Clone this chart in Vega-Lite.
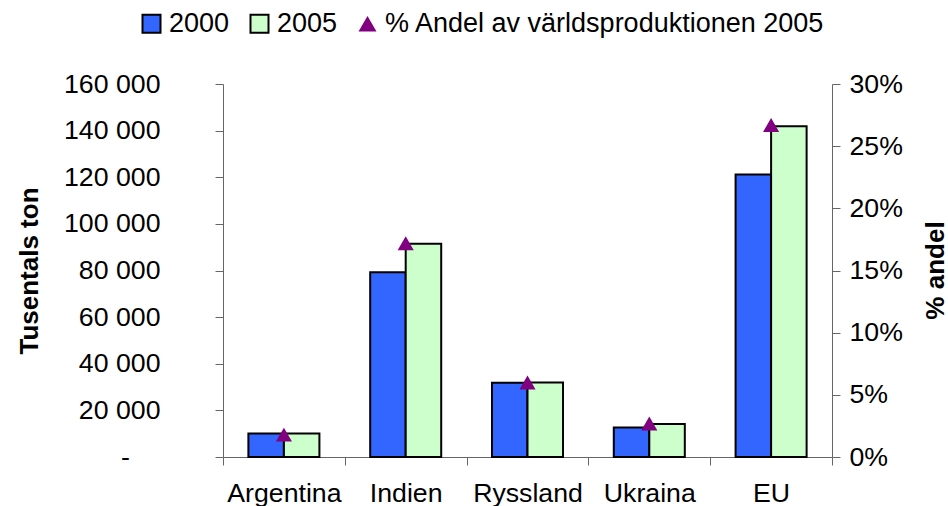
{
  "$schema": "https://vega.github.io/schema/vega-lite/v6.json",
  "width": 609,
  "height": 373,
  "autosize": {"type": "none"},
  "padding": {"left": 223, "top": 84, "right": 116, "bottom": 49},
  "background": "#ffffff",
  "config": {
    "view": {"stroke": null},
    "font": "Liberation Sans",
    "axis": {
      "labelFont": "Liberation Sans",
      "titleFont": "Liberation Sans",
      "labelColor": "#000000",
      "titleColor": "#000000",
      "domainColor": "#666666",
      "tickColor": "#666666",
      "labelFontSize": 26.7,
      "titleFontSize": 26,
      "titleFontWeight": "bold",
      "grid": false
    }
  },
  "datasets": {
    "bars": [
      {"country": "Argentina", "year": "2000", "value": 10100},
      {"country": "Argentina", "year": "2005", "value": 10100},
      {"country": "Indien", "year": "2000", "value": 79300},
      {"country": "Indien", "year": "2005", "value": 91500},
      {"country": "Ryssland", "year": "2000", "value": 31900},
      {"country": "Ryssland", "year": "2005", "value": 32000},
      {"country": "Ukraina", "year": "2000", "value": 12700},
      {"country": "Ukraina", "year": "2005", "value": 14200},
      {"country": "EU", "year": "2000", "value": 121200},
      {"country": "EU", "year": "2005", "value": 141900}
    ],
    "share": [
      {"country": "Argentina", "pct": 1.8},
      {"country": "Indien", "pct": 17.2},
      {"country": "Ryssland", "pct": 6.0},
      {"country": "Ukraina", "pct": 2.7},
      {"country": "EU", "pct": 26.7}
    ]
  },
  "layer": [
    {
      "data": {"name": "bars"},
      "mark": {"type": "bar", "stroke": "#000000", "strokeWidth": 2},
      "encoding": {
        "x": {
          "field": "country",
          "type": "nominal",
          "sort": ["Argentina", "Indien", "Ryssland", "Ukraina", "EU"],
          "scale": {"paddingInner": 0, "paddingOuter": 0},
          "axis": {"title": null, "labelAngle": 0, "tickBand": "extent", "tickSize": 8, "labelPadding": 15}
        },
        "xOffset": {
          "field": "year",
          "type": "nominal",
          "scale": {"paddingInner": 0, "paddingOuter": 0.715}
        },
        "y": {
          "field": "value",
          "type": "quantitative",
          "scale": {"domain": [0, 160000]},
          "axis": {
            "title": "Tusentals ton",
            "values": [0, 20000, 40000, 60000, 80000, 100000, 120000, 140000, 160000],
            "labelExpr": "datum.value === 0 ? '-\u2009\u2009\u2800' : replace(format(datum.value, ',.0f'), ',', ' ')",
            "tickSize": 8,
            "labelPadding": 55,
            "titlePadding": 21
          }
        },
        "color": {
          "field": "year",
          "type": "nominal",
          "scale": {
            "domain": ["2000", "2005", "% Andel av världsproduktionen 2005"],
            "range": ["#3366FF", "#CCFFCC", "#800080"]
          },
          "legend": {
            "title": null,
            "orient": "none",
            "legendX": -85,
            "legendY": -74,
            "direction": "horizontal",
            "symbolType": "square",
            "symbolSize": 324,
            "symbolStrokeColor": "#000000",
            "symbolStrokeWidth": 2,
            "symbolOpacity": 1,
            "labelFont": "Liberation Sans",
            "labelFontSize": 27,
            "labelColor": "#000000",
            "columnPadding": 16,
            "labelOffset": 4,
            "labelLimit": 600,
            "encode": {
              "symbols": {
                "update": {
                  "shape": {"signal": "datum.value === '2000' || datum.value === '2005' ? 'square' : 'triangle-up'"},
                  "strokeWidth": {"signal": "datum.value === '2000' || datum.value === '2005' ? 2 : 0"}
                }
              }
            }
          }
        }
      }
    },
    {
      "data": {"name": "share"},
      "mark": {"type": "point", "shape": "triangle-up", "filled": true, "size": 260, "opacity": 1},
      "encoding": {
        "x": {
          "field": "country",
          "type": "nominal",
          "sort": ["Argentina", "Indien", "Ryssland", "Ukraina", "EU"]
        },
        "y": {
          "field": "pct",
          "type": "quantitative",
          "scale": {"domain": [0, 30]},
          "axis": {
            "orient": "right",
            "title": "% andel",
            "titleAngle": 270,
            "titleX": 103,
            "titleY": 186,
            "titleAlign": "center",
            "titleBaseline": "middle",
            "values": [0, 5, 10, 15, 20, 25, 30],
            "labelExpr": "datum.value + '%'",
            "tickSize": 8,
            "labelPadding": 9
          }
        },
        "color": {"datum": "% Andel av världsproduktionen 2005"}
      }
    }
  ],
  "resolve": {"scale": {"y": "independent"}}
}
